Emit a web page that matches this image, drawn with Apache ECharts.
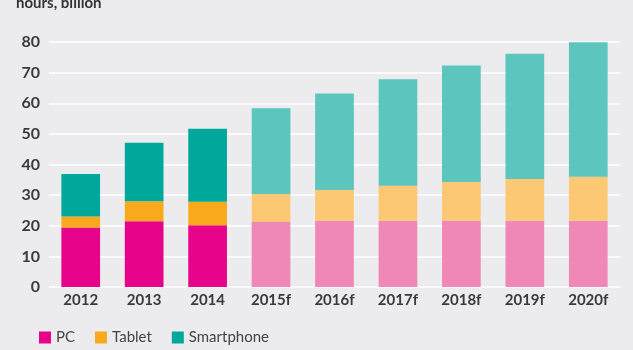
<!DOCTYPE html>
<html>
<head>
<meta charset="utf-8">
<style>
  html, body { margin: 0; padding: 0; background: #ececee; }
  #chart { width: 633px; height: 350px; }
</style>
<script src="https://cdn.jsdelivr.net/npm/echarts@6/dist/echarts.min.js"></script>
</head>
<body>
<div id="chart"></div>
<script>
// years, the "f" ones are forecasts
const categories = ['2012', '2013', '2014', '2015f', '2016f', '2017f', '2018f', '2019f', '2020f']
const forecastFrom = 3
// stacked segments, hours billion
const pcValues = [19.4, 21.5, 20.2, 21.2, 21.6, 21.6, 21.6, 21.6, 21.6]
const tabletValues = [3.6, 6.5, 7.6, 9.2, 10.1, 11.5, 12.7, 13.7, 14.4]
const smartphoneValues = [13.9, 19.1, 23.9, 28.0, 31.5, 34.7, 38.0, 40.9, 43.9]
const yTicks = [0, 10, 20, 30, 40, 50, 60, 70, 80]

const colors = {
  PC: ['#e8038b', '#f088b7'],
  Tablet: ['#f8aa1c', '#fdc874'],
  Smartphone: ['#00a89c', '#5bc5be']
}

function makeSeries(name, values) {
  return {
    name: name,
    type: 'bar',
    stack: 'total',
    barWidth: '61%',
    itemStyle: { color: colors[name][0] },
    data: values.map(function (v, i) {
      return { value: v, itemStyle: { color: colors[name][i >= forecastFrom ? 1 : 0] } }
    })
  }
}

const chart = echarts.init(document.getElementById('chart'))
chart.setOption({
  backgroundColor: '#ececee',
  animation: false,
  textStyle: { fontFamily: 'Lato' },
  title: {
    text: 'hours, billion',
    left: 11,
    top: -9,
    textStyle: { fontFamily: 'Lato', fontWeight: 'bold', fontSize: 15, color: '#333' }
  },
  legend: {
    left: 34,
    top: 325,
    itemWidth: 12,
    itemHeight: 12,
    itemGap: 20,
    icon: 'rect',
    textStyle: { fontFamily: 'Lato', fontSize: 15, color: '#444' },
    data: ['PC', 'Tablet', 'Smartphone']
  },
  grid: { left: 49, right: 13, top: 42, bottom: 63 },
  xAxis: {
    type: 'category',
    data: categories,
    axisLine: { show: false },
    axisTick: { show: false },
    axisLabel: { fontFamily: 'Lato', fontWeight: 'bold', fontSize: 15, color: '#3a3a3a', margin: 6 }
  },
  yAxis: {
    type: 'value',
    min: yTicks[0],
    max: yTicks[yTicks.length - 1],
    interval: 10,
    axisLine: { show: false },
    axisTick: { show: false },
    splitLine: { lineStyle: { color: '#ffffff', width: 1.5 } },
    axisLabel: { fontFamily: 'Lato', fontWeight: 'bold', fontSize: 16, color: '#3a3a3a', margin: 9 }
  },
  series: [
    makeSeries('PC', pcValues),
    makeSeries('Tablet', tabletValues),
    makeSeries('Smartphone', smartphoneValues)
  ]
})
</script>
</body>
</html>
